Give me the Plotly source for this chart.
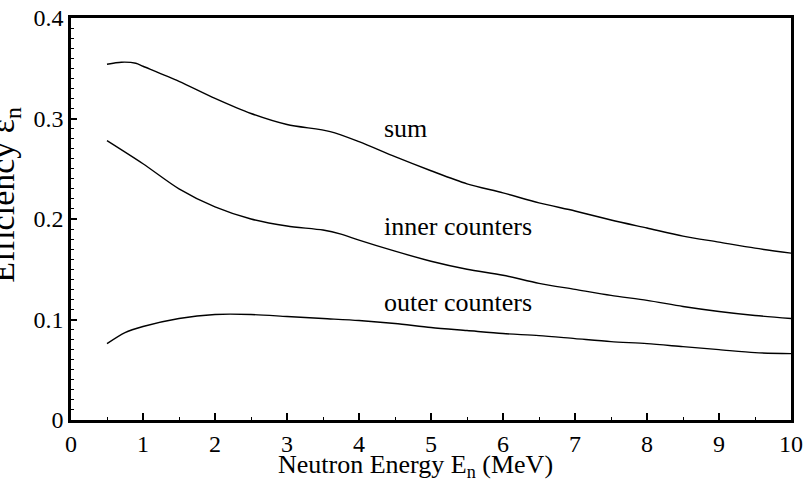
import plotly.graph_objects as go

# Data
energy_sum = [0.5, 0.7, 0.9, 1.0, 1.5, 2.0, 2.5, 3.0, 3.6, 4.0, 4.5, 5.0, 5.5, 6.0, 6.5, 7.0, 7.5, 8.0, 8.5, 9.0, 9.5, 10.0]
eff_sum = [0.354, 0.356, 0.355, 0.352, 0.337, 0.320, 0.305, 0.294, 0.287, 0.277, 0.262, 0.248, 0.235, 0.226, 0.216, 0.208, 0.199, 0.191, 0.183, 0.177, 0.171, 0.166]

energy_inner = [0.5, 1.0, 1.5, 2.0, 2.5, 3.0, 3.5, 3.75, 4.0, 4.5, 5.0, 5.5, 6.0, 6.5, 7.0, 7.5, 8.0, 8.5, 9.0, 9.5, 10.0]
eff_inner = [0.278, 0.255, 0.230, 0.212, 0.200, 0.193, 0.189, 0.185, 0.179, 0.168, 0.158, 0.150, 0.144, 0.136, 0.130, 0.124, 0.119, 0.113, 0.108, 0.104, 0.101]

energy_outer = [0.5, 0.75, 1.0, 1.5, 2.0, 2.5, 3.0, 3.5, 4.0, 4.5, 5.0, 5.5, 6.0, 6.5, 7.0, 7.5, 8.0, 8.5, 9.0, 9.5, 10.0]
eff_outer = [0.076, 0.087, 0.093, 0.101, 0.105, 0.105, 0.103, 0.101, 0.099, 0.096, 0.092, 0.089, 0.086, 0.084, 0.081, 0.078, 0.076, 0.073, 0.070, 0.067, 0.066]

labels = ["sum", "inner counters", "outer counters"]
label_x = [4.32, 4.32, 4.32]
label_y = [0.290, 0.193, 0.117]

x_tick_vals = [0, 1, 2, 3, 4, 5, 6, 7, 8, 9, 10]
y_tick_vals = [0, 0.1, 0.2, 0.3, 0.4]
y_tick_text = ["0", "0.1", "0.2", "0.3", "0.4"]

FONT = "Liberation Serif"

fig = go.Figure()
for xs, ys in [(energy_sum, eff_sum), (energy_inner, eff_inner), (energy_outer, eff_outer)]:
    fig.add_trace(go.Scatter(x=xs, y=ys, mode="lines",
                             line=dict(color="black", width=1.4, shape="spline", smoothing=0.8),
                             showlegend=False, hoverinfo="skip"))

for t, lx, ly in zip(labels, label_x, label_y):
    fig.add_annotation(x=lx, y=ly, xref="x", yref="y", text=t, showarrow=False,
                       xanchor="left", yanchor="middle",
                       font=dict(family=FONT, size=26, color="black"))

# axis titles
fig.add_annotation(x=-0.092, y=0.56, xref="paper", yref="paper",
                   text="Efficiency ε<sub>n</sub>", textangle=-90, showarrow=False,
                   xanchor="center", yanchor="middle",
                   font=dict(family=FONT, size=34, color="black"))
fig.add_annotation(x=0.478, y=-0.114, xref="paper", yref="paper",
                   text="Neutron Energy E<sub>n</sub> (MeV)", showarrow=False,
                   xanchor="center", yanchor="middle", borderpad=0,
                   font=dict(family=FONT, size=26, color="black"))

fig.update_layout(
    width=804, height=485,
    margin=dict(l=71, r=13, t=18, b=65),
    paper_bgcolor="white", plot_bgcolor="white",
    font=dict(family=FONT, size=24, color="black"),
    xaxis=dict(range=[0, 10], tickvals=x_tick_vals, ticks="inside", ticklen=7, tickwidth=1.5,
               tickcolor="black", showline=True, linecolor="black", linewidth=2.5, mirror=True,
               showgrid=False, zeroline=False, automargin=False,
               minor=dict(dtick=0.5, ticks="inside", ticklen=3, tickwidth=1.2, tickcolor="black"),
               tickfont=dict(family=FONT, size=24)),
    yaxis=dict(range=[0, 0.4], tickvals=y_tick_vals, ticktext=y_tick_text, ticks="inside",
               ticklen=6, tickwidth=1.5, tickcolor="black", showline=True, linecolor="black",
               linewidth=2.5, mirror=True, showgrid=False, zeroline=False, automargin=False,
               minor=dict(dtick=0.01, ticks="inside", ticklen=3, tickwidth=1.2, tickcolor="black"),
               tickfont=dict(family=FONT, size=24)),
)

fig.write_html("out.html")
